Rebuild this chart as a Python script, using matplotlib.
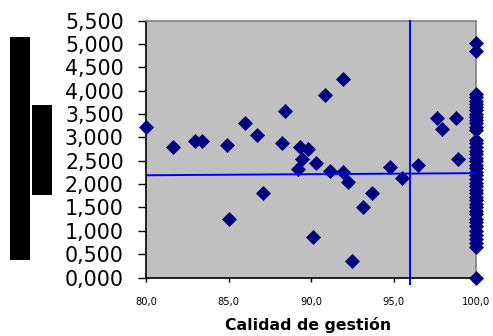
import matplotlib
matplotlib.use("Agg")
import matplotlib.pyplot as plt
from matplotlib.patches import Rectangle
from matplotlib.ticker import FuncFormatter, MultipleLocator

# ---- data ----
x_scatter = [80.0, 81.66, 82.97, 83.37, 84.93, 85.05, 86.02, 86.75, 87.11, 88.22,
             88.44, 89.33, 89.82, 89.43, 89.21, 90.28, 90.15, 90.87, 91.96, 91.15,
             91.96, 92.27, 92.47, 93.17, 93.68, 94.79, 95.50, 96.47, 97.66, 97.92,
             98.77, 98.91]
y_scatter = [3.22, 2.79, 2.92, 2.92, 2.83, 1.25, 3.31, 3.05, 1.81, 2.88,
             3.57, 2.80, 2.75, 2.54, 2.32, 2.45, 0.87, 3.91, 4.25, 2.28,
             2.26, 2.05, 0.35, 1.50, 1.81, 2.37, 2.14, 2.41, 3.41, 3.17,
             3.41, 2.54]
x_full = 100.0
y_full = [5.03, 4.85,
          3.93, 3.86, 3.79, 3.72, 3.65, 3.58, 3.51, 3.44, 3.37, 3.30, 3.23, 3.16,
          2.95, 2.87, 2.80, 2.72, 2.64, 2.57, 2.49, 2.42, 2.34, 2.26, 2.19, 2.11,
          2.03, 1.96, 1.88, 1.80, 1.73, 1.65, 1.57, 1.50, 1.42, 1.35, 1.26, 1.18,
          1.10, 1.00, 0.92, 0.83, 0.74, 0.65,
          0.00]
trend_x = [80.0, 100.0]
trend_y = [2.19, 2.235]
vline_x = 96.0
x_label = "Calidad de gestión"

W, H = 493, 336
fig = plt.figure(figsize=(W / 100, H / 100), dpi=100)
fig.patch.set_facecolor("white")

ax = fig.add_axes([146 / W, 1 - 277.5 / H, (476 - 146) / W, (277.5 - 20.7) / H])
ax.set_facecolor("#C0C0C0")

xs = x_scatter + [x_full] * len(y_full)
ys = y_scatter + y_full
ax.plot(xs, ys, linestyle="none", marker="D", markersize=7.3,
        markerfacecolor="#000080", markeredgecolor="#000080", markeredgewidth=0.5,
        clip_on=False, zorder=3)

ax.plot(trend_x, trend_y, color="#0000FF", linewidth=1.4, zorder=4)
ax.axvline(vline_x, ymin=-0.025, ymax=1.0, color="#0000FF", linewidth=1.4,
           clip_on=False, zorder=4)

ax.set_xlim(80, 100)
ax.set_ylim(0, 5.5)
ax.xaxis.set_major_locator(MultipleLocator(5))
ax.yaxis.set_major_locator(MultipleLocator(0.5))
ax.xaxis.set_major_formatter(FuncFormatter(lambda v, p: f"{v:.1f}".replace(".", ",")))
ax.yaxis.set_major_formatter(FuncFormatter(lambda v, p: f"{v:.3f}".replace(".", ",")))

ax.tick_params(axis="y", direction="out", length=6, width=1, pad=10,
               labelsize=14.8, colors="black")
ax.tick_params(axis="x", direction="out", length=3, width=1, pad=11,
               labelsize=7.2, colors="black")

for side in ("left", "bottom"):
    ax.spines[side].set_color("black")
    ax.spines[side].set_linewidth(1.2)
for side in ("top", "right"):
    ax.spines[side].set_color("#808080")
    ax.spines[side].set_linewidth(1.2)

fig.text(308 / W, 1 - 325 / H, x_label, ha="center", va="center",
         fontsize=11.3, fontweight="bold", color="black")

# redaction blocks on the left
fig.patches.append(Rectangle((10 / W, 1 - 260 / H), 20 / W, (260 - 37) / H,
                             transform=fig.transFigure, facecolor="black",
                             edgecolor="none"))
fig.patches.append(Rectangle((32 / W, 1 - 195 / H), 20 / W, (195 - 105) / H,
                             transform=fig.transFigure, facecolor="black",
                             edgecolor="none"))

fig.savefig("out.png", dpi=100)
